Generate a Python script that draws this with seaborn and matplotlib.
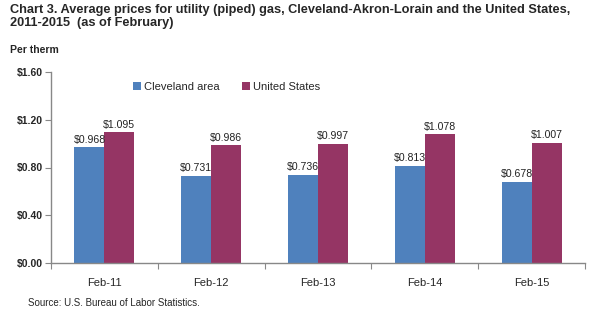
import matplotlib
matplotlib.use("Agg")
import matplotlib.pyplot as plt
import seaborn as sns
import pandas as pd

categories = ["Feb-11", "Feb-12", "Feb-13", "Feb-14", "Feb-15"]
cleveland = [0.968, 0.731, 0.736, 0.813, 0.678]
us = [1.095, 0.986, 0.997, 1.078, 1.007]
series_names = ["Cleveland area", "United States"]
yticks = [0.0, 0.4, 0.8, 1.2, 1.6]

df = pd.DataFrame({
    "cat": categories * 2,
    "series": [series_names[0]] * 5 + [series_names[1]] * 5,
    "val": cleveland + us,
})

sns.set_style("white")
plt.rcParams["font.family"] = ["Liberation Sans", "DejaVu Sans"]

fig = plt.figure(figsize=(6.02, 3.23), dpi=100)
ax = fig.add_axes([51/602, 1-263/323, (585-51)/602, (263-72)/323])

palette = {series_names[0]: "#4F81BD", series_names[1]: "#953564"}
sns.barplot(data=df, x="cat", y="val", hue="series", palette=palette,
            width=0.56, ax=ax, saturation=1, legend=True, linewidth=0)

for cont in ax.containers:
    ax.bar_label(cont, labels=[f"${v:.3f}" for v in cont.datavalues],
                 padding=2, fontsize=7.6, color="#222222")

ax.set_ylim(0, 1.6)
ax.set_yticks(yticks)
ax.set_yticklabels([f"${t:.2f}" for t in yticks], fontsize=7.5, fontweight="bold")
ax.set_xlim(-0.5, 4.5)
ax.set_xticks([i - 0.5 for i in range(6)], minor=False)
ax.set_xticklabels([])
ax.set_xticks(range(5), minor=True)
ax.set_xticklabels(categories, minor=True, fontsize=8)
ax.tick_params(axis="x", which="major", length=4, color="#888888", direction="out", bottom=True)
ax.tick_params(axis="x", which="minor", length=0, pad=11)
ax.tick_params(axis="y", length=4, color="#888888", direction="out", left=True, pad=2)
ax.set_xlabel("")
ax.set_ylabel("")
for s in ["top", "right"]:
    ax.spines[s].set_visible(False)
for s in ["left", "bottom"]:
    ax.spines[s].set_color("#888888")
    ax.spines[s].set_linewidth(1)

leg = ax.legend(loc="upper left", bbox_to_anchor=(0.135, 1.0), ncol=2, frameon=False,
                fontsize=8, handlelength=0.7, handleheight=0.7, handletextpad=0.3,
                columnspacing=2.0)

fig.text(10/602, 1-4/323, "Chart 3. Average prices for utility (piped) gas, Cleveland-Akron-Lorain and the United States,\n2011-2015  (as of February)",
         fontsize=9.2, fontweight="bold", va="top", ha="left", linespacing=1.1)
fig.text(10/602, 1-45/323, "Per therm", fontsize=7.5, fontweight="bold", va="top", ha="left")
fig.text(28/602, 1-303/323, "Source: U.S. Bureau of Labor Statistics.", fontsize=7, va="center", ha="left")

fig.savefig("out.png", dpi=100)
